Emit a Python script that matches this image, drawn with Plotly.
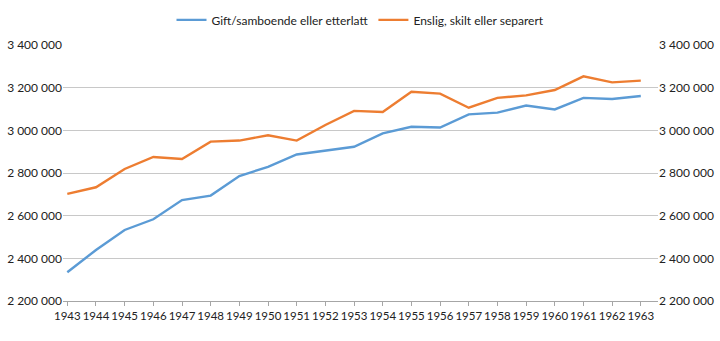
import plotly.graph_objects as go

years = list(range(1943, 1964))
gift = [2335000, 2439000, 2533000, 2583000, 2673000, 2694000, 2786000, 2829000,
        2887000, 2905000, 2923000, 2986000, 3017000, 3013000, 3075000, 3083000,
        3116000, 3098000, 3152000, 3147000, 3161000]
enslig = [2702000, 2733000, 2819000, 2875000, 2866000, 2947000, 2952000, 2977000,
          2952000, 3025000, 3091000, 3086000, 3181000, 3172000, 3106000, 3152000,
          3164000, 3189000, 3253000, 3225000, 3233000]
names = ["Gift/samboende eller etterlatt", "Enslig, skilt eller separert"]
colors = ["#5B9BD5", "#ED7D31"]
y_range = [2200000, 3400000]
y_ticks = [2200000, 2400000, 2600000, 2800000, 3000000, 3200000, 3400000]

font = dict(family="Lato", size=12, color="#222222")
xfont = dict(family="Lato", size=11.5, color="#222222")

fig = go.Figure()
fig.add_trace(go.Scatter(x=years, y=gift, name=names[0], mode="lines",
                         line=dict(color=colors[0], width=2.4)))
fig.add_trace(go.Scatter(x=years, y=enslig, name=names[1], mode="lines",
                         line=dict(color=colors[1], width=2.4)))
# invisible trace to carry the right-hand axis
fig.add_trace(go.Scatter(x=years, y=gift, yaxis="y2", mode="lines",
                         line=dict(color="rgba(0,0,0,0)"), showlegend=False,
                         hoverinfo="skip"))

fig.update_layout(
    width=720, height=341,
    margin=dict(l=63, r=62, t=45, b=40, autoexpand=False),
    paper_bgcolor="white", plot_bgcolor="white",
    font=font,
    separators=", ",
    showlegend=True,
    legend=dict(orientation="h", x=0.5, xanchor="center", y=1.098, yanchor="middle",
                font=font, itemwidth=30, traceorder="normal"),
    xaxis=dict(range=[1942.85, 1963.6], tickmode="array", tickvals=years,
               ticktext=[str(y) for y in years], tickangle=0,
               showgrid=False, zeroline=False, showline=True, linecolor="#A6A6A6",
               linewidth=1, ticks="outside", ticklen=4, tickcolor="#A6A6A6",
               tickfont=xfont),
    yaxis=dict(range=y_range, tickvals=y_ticks, tickformat=",d",
               showgrid=True, gridcolor="#C8C8C8", gridwidth=1, zeroline=False,
               showline=False, ticks="", tickfont=font),
    yaxis2=dict(range=y_range, tickvals=y_ticks, tickformat=",d", overlaying="y",
                side="right", anchor="x", showgrid=False, zeroline=False,
                showline=False, ticks="", tickfont=font),
)

fig.write_html("out.html")
